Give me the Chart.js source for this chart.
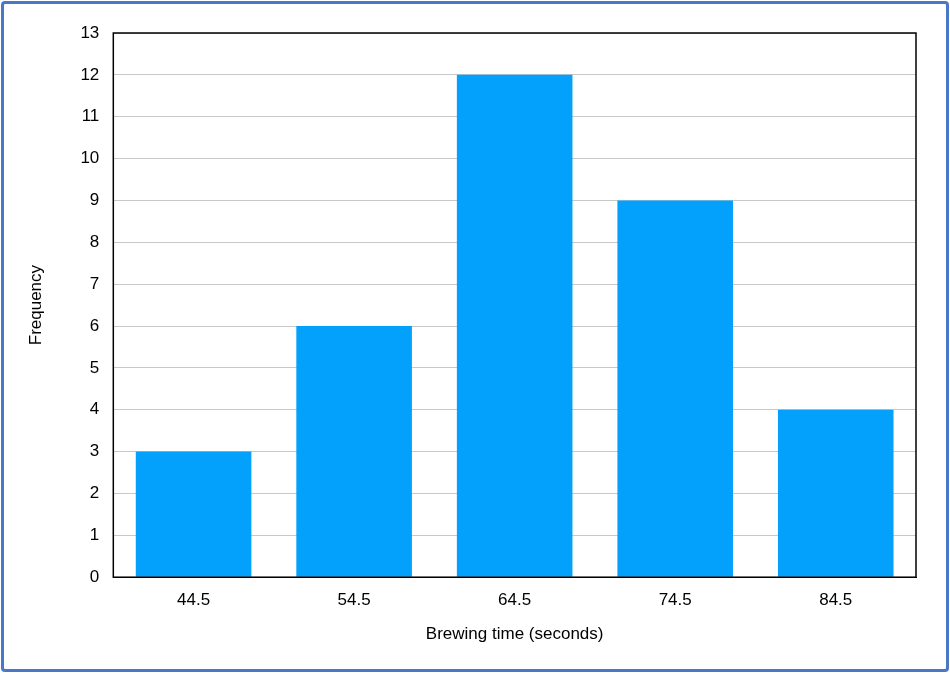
<!DOCTYPE html>
<html><head><meta charset="utf-8">
<script src="https://cdn.jsdelivr.net/npm/chart.js@4"></script>
<style>
body{margin:0;background:#fff;}
#frame{position:absolute;left:1px;top:1px;width:942px;height:665px;border:3px solid #4a78c8;border-radius:4px;}
#wrap{position:absolute;left:0;top:0;width:950px;height:673px;}
</style></head><body>
<div id="wrap"><canvas id="c" width="950" height="673"></canvas></div>
<div id="frame"></div>
<script>
const categories = ["44.5","54.5","64.5","74.5","84.5"];
const frequencies = [3,6,12,9,4];
const yTicks = [0,1,2,3,4,5,6,7,8,9,10,11,12,13];

const boxPlugin = {id:'box', afterDraw(ch){const a=ch.chartArea,c=ch.ctx;c.save();c.strokeStyle='#000';c.lineWidth=1.5;c.strokeRect(a.left,a.top,a.right-a.left,a.bottom-a.top);c.restore();}};
Chart.defaults.font.family = "'Liberation Sans', Arial, sans-serif";
Chart.defaults.color = '#000';
new Chart(document.getElementById('c'), {
  type:'bar',
  data:{labels:categories, datasets:[{data:frequencies, backgroundColor:'#03a1fc', barPercentage:0.72, categoryPercentage:1}]},
  options:{
    responsive:false, animation:false,
    layout:{padding:{left:22,right:34,top:33,bottom:24}},
    plugins:{legend:{display:false}, tooltip:{enabled:false}},
    scales:{
      x:{grid:{display:false}, border:{color:'#000'}, ticks:{font:{size:17}, padding:5},
         title:{display:true, text:'Brewing time (seconds)', font:{size:17}, padding:{top:9}}},
      y:{min:0,max:13, afterBuildTicks(s){s.ticks=yTicks.map(v=>({value:v}));},
         grid:{color:'#c8c8c8', drawTicks:false}, border:{color:'#000'},
         ticks:{font:{size:17}, padding:14},
         title:{display:true, text:'Frequency', font:{size:17}, padding:{bottom:20}}}
    }
  },
  plugins:[boxPlugin]
});
</script></body></html>
